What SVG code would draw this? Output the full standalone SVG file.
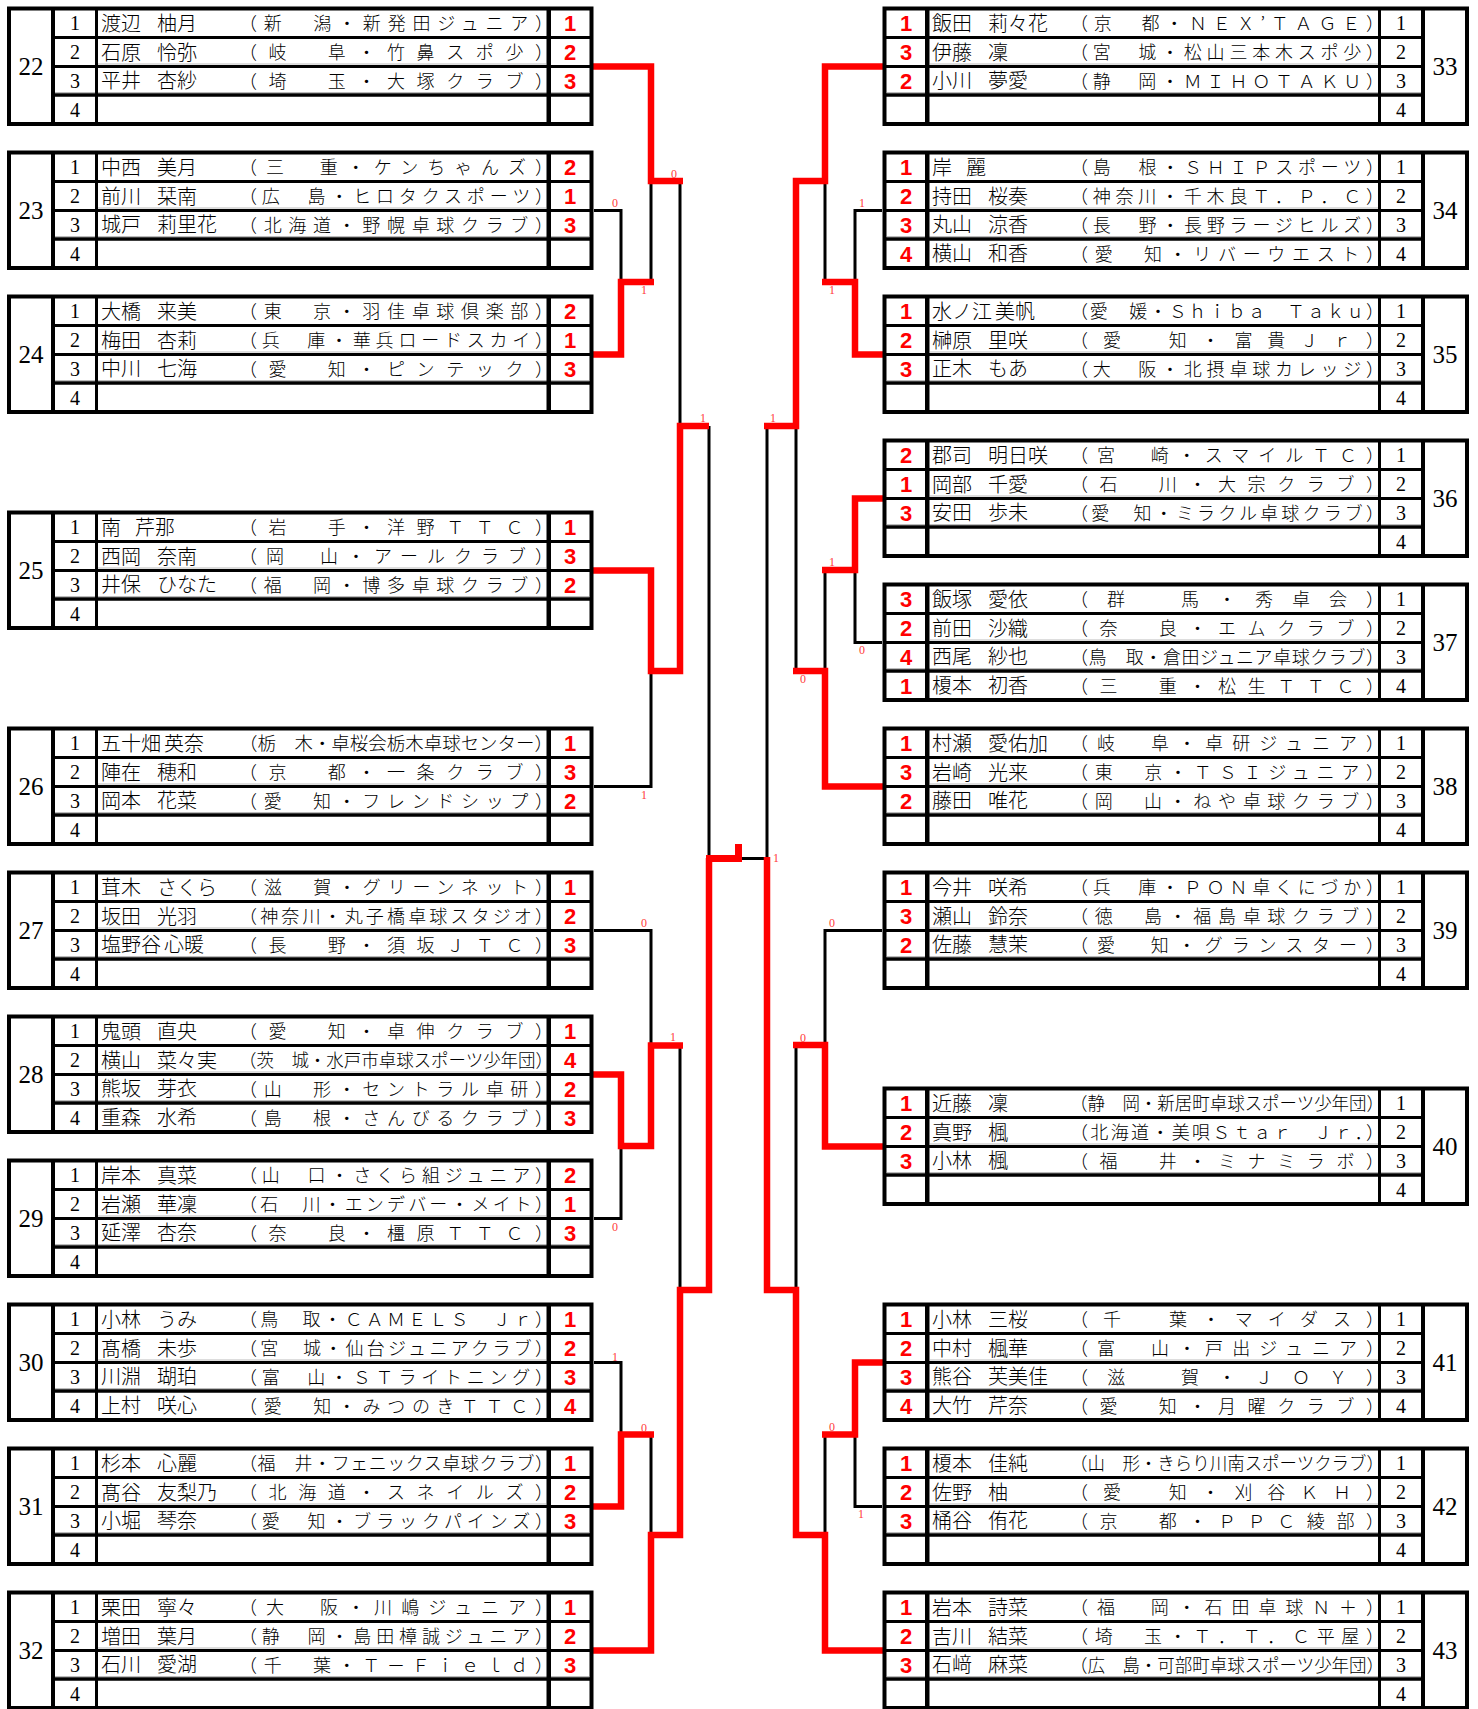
<svg xmlns="http://www.w3.org/2000/svg" xmlns:xlink="http://www.w3.org/1999/xlink" width="1478" height="1709" viewBox="0 0 1478 1709">
<style>
.nm{font-family:"Noto Sans CJK JP",sans-serif;font-size:20px;font-weight:300;fill:#000}
.cl{font-family:"Noto Sans CJK JP",sans-serif;font-size:18px;font-weight:300;fill:#000}
.ix{font-family:"Liberation Serif",serif;font-size:20px;text-anchor:middle;fill:#000}
.bn{font-family:"Liberation Serif",serif;font-size:25px;text-anchor:middle;fill:#000}
.sc{font-family:"Liberation Sans",sans-serif;font-weight:bold;font-size:22px;text-anchor:middle;fill:#ff0000}
.lb{font-family:"Liberation Serif",serif;font-size:12px;text-anchor:middle;fill:#ff3b3b}
.k{stroke:#000;stroke-width:3;fill:none}
.r{stroke:#ff0000;stroke-width:6.5;fill:none;stroke-linejoin:miter}
</style>
<defs>
<g id="frame">
<rect x="9" y="1.5" width="582.5" height="115.5" fill="#fff" stroke="#000" stroke-width="4"/>
<line x1="98" y1="57" x2="546" y2="57" stroke="#bbb" stroke-width="1"/>
<line x1="55" y1="85.5" x2="589" y2="85.5" stroke="#bbb" stroke-width="1"/>
<line x1="53" y1="0" x2="53" y2="119" stroke="#000" stroke-width="4"/>
<line x1="96.5" y1="0" x2="96.5" y2="119" stroke="#000" stroke-width="3"/>
<line x1="548.75" y1="0" x2="548.75" y2="119" stroke="#000" stroke-width="4.5"/>
<line x1="53" y1="30.5" x2="591" y2="30.5" stroke="#000" stroke-width="3"/>
<line x1="53" y1="59.5" x2="591" y2="59.5" stroke="#000" stroke-width="3"/>
<line x1="53" y1="88" x2="591" y2="88" stroke="#000" stroke-width="3.5"/>
</g>
<g id="idxL"><text class="ix" x="75" y="23">1</text><text class="ix" x="75" y="52">2</text><text class="ix" x="75" y="80.5">3</text><text class="ix" x="75" y="109.5">4</text></g>
<g id="idxR"><text class="ix" x="1401" y="23">1</text><text class="ix" x="1401" y="52">2</text><text class="ix" x="1401" y="80.5">3</text><text class="ix" x="1401" y="109.5">4</text></g>
<use id="frameR" xlink:href="#frame" transform="translate(1476,0) scale(-1,1)"/>
</defs>
<rect width="1478" height="1709" fill="#fff"/>

<g id="connectors">
<g id="black-lines" class="k">
<path d="M594 210.5H621V282"/>
<path d="M651 181V282"/>
<path d="M680 181V426"/>
<path d="M594 786.5H651V671"/>
<path d="M709 426V858"/>
<path d="M594 930.5H651V1045.5"/>
<path d="M594 1218.5H621V1146"/>
<path d="M680 1045.5V1290"/>
<path d="M594 1362.5H621V1434.5"/>
<path d="M651 1434.5V1535"/>
<path d="M740 858.5H767"/>
<path d="M882 210.5H855V282"/>
<path d="M825 181V282"/>
<path d="M796 426V671"/>
<path d="M882 642.5H855V570"/>
<path d="M825 570V671"/>
<path d="M767 426V858"/>
<path d="M882 930.5H825V1045"/>
<path d="M796 1045V1290"/>
<path d="M825 1434.5V1535"/>
<path d="M882 1506.5H855V1434.5"/>
</g>
<g id="red-lines" class="r">
<path d="M590 66.5H651V181H683"/>
<path d="M590 354.5H621V282H654"/>
<path d="M709 426H680V671H651V570.5H590"/>
<path d="M709 858V1290H680V1535H651V1650.5H590"/>
<path d="M683 1045.5H651V1146H621V1074.5H590"/>
<path d="M654 1434.5H621V1506.5H590"/>
<path d="M706 858.5H738.5V844" stroke-width="7"/>
<path d="M886 66.5H825V181H796V426H764"/>
<path d="M886 354.5H855V282H822"/>
<path d="M886 498.5H855V570H822"/>
<path d="M793 671H825V786.5H886"/>
<path d="M767 857V1290H796V1535H825V1650.5H886"/>
<path d="M793 1045H825V1146.5H886"/>
<path d="M886 1362.5H855V1434.5H822"/>
</g>
<g id="scores">
<text class="lb" x="674" y="178">0</text>
<text class="lb" x="615" y="207">0</text>
<text class="lb" x="644" y="294">1</text>
<text class="lb" x="703" y="422">1</text>
<text class="lb" x="644" y="799">1</text>
<text class="lb" x="644" y="927">0</text>
<text class="lb" x="673" y="1041">1</text>
<text class="lb" x="615" y="1231">0</text>
<text class="lb" x="615" y="1361">1</text>
<text class="lb" x="644" y="1432">0</text>
<text class="lb" x="862" y="207">1</text>
<text class="lb" x="832" y="294">1</text>
<text class="lb" x="773" y="422">1</text>
<text class="lb" x="832" y="566">1</text>
<text class="lb" x="862" y="654">0</text>
<text class="lb" x="803" y="683">0</text>
<text class="lb" x="776" y="862">1</text>
<text class="lb" x="832" y="927">0</text>
<text class="lb" x="803" y="1042">0</text>
<text class="lb" x="832" y="1431">0</text>
<text class="lb" x="861" y="1518">1</text>
</g>
</g>

<g id="block-22" transform="translate(0,7)"><use xlink:href="#frame"/><use xlink:href="#idxL"/><text class="bn" x="31" y="68">22</text>
<text class="nm" x="101" y="23.5">渡辺<tspan dx="16">柚月</tspan></text><text class="cl" x="239" y="23" textLength="314" lengthAdjust="spacing">（新　潟・新発田ジュニア）</text><text class="sc" x="570" y="24">1</text>
<text class="nm" x="101" y="52.5">石原<tspan dx="16">怜弥</tspan></text><text class="cl" x="239" y="52" textLength="314" lengthAdjust="spacing">（岐　阜・竹鼻スポ少）</text><text class="sc" x="570" y="53">2</text>
<text class="nm" x="101" y="81">平井<tspan dx="16">杏紗</tspan></text><text class="cl" x="239" y="80.5" textLength="314" lengthAdjust="spacing">（埼　玉・大塚クラブ）</text><text class="sc" x="570" y="81.5">3</text>
</g>
<g id="block-23" transform="translate(0,151)"><use xlink:href="#frame"/><use xlink:href="#idxL"/><text class="bn" x="31" y="68">23</text>
<text class="nm" x="101" y="23.5">中西<tspan dx="16">美月</tspan></text><text class="cl" x="239" y="23" textLength="314" lengthAdjust="spacing">（三　重・ケンちゃんズ）</text><text class="sc" x="570" y="24">2</text>
<text class="nm" x="101" y="52.5">前川<tspan dx="16">栞南</tspan></text><text class="cl" x="239" y="52" textLength="314" lengthAdjust="spacing">（広　島・ヒロタクスポーツ）</text><text class="sc" x="570" y="53">1</text>
<text class="nm" x="101" y="81">城戸<tspan dx="16">莉里花</tspan></text><text class="cl" x="239" y="80.5" textLength="314" lengthAdjust="spacing">（北海道・野幌卓球クラブ）</text><text class="sc" x="570" y="81.5">3</text>
</g>
<g id="block-24" transform="translate(0,295)"><use xlink:href="#frame"/><use xlink:href="#idxL"/><text class="bn" x="31" y="68">24</text>
<text class="nm" x="101" y="23.5">大橋<tspan dx="16">来美</tspan></text><text class="cl" x="239" y="23" textLength="314" lengthAdjust="spacing">（東　京・羽佳卓球倶楽部）</text><text class="sc" x="570" y="24">2</text>
<text class="nm" x="101" y="52.5">梅田<tspan dx="16">杏莉</tspan></text><text class="cl" x="239" y="52" textLength="314" lengthAdjust="spacing">（兵　庫・華兵ロードスカイ）</text><text class="sc" x="570" y="53">1</text>
<text class="nm" x="101" y="81">中川<tspan dx="16">七海</tspan></text><text class="cl" x="239" y="80.5" textLength="314" lengthAdjust="spacing">（愛　知・ピンテック）</text><text class="sc" x="570" y="81.5">3</text>
</g>
<g id="block-25" transform="translate(0,511)"><use xlink:href="#frame"/><use xlink:href="#idxL"/><text class="bn" x="31" y="68">25</text>
<text class="nm" x="101" y="23.5">南<tspan dx="14">芹那</tspan></text><text class="cl" x="239" y="23" textLength="314" lengthAdjust="spacing">（岩　手・洋野ＴＴＣ）</text><text class="sc" x="570" y="24">1</text>
<text class="nm" x="101" y="52.5">西岡<tspan dx="16">奈南</tspan></text><text class="cl" x="239" y="52" textLength="314" lengthAdjust="spacing">（岡　山・アールクラブ）</text><text class="sc" x="570" y="53">3</text>
<text class="nm" x="101" y="81">井保<tspan dx="16">ひなた</tspan></text><text class="cl" x="239" y="80.5" textLength="314" lengthAdjust="spacing">（福　岡・博多卓球クラブ）</text><text class="sc" x="570" y="81.5">2</text>
</g>
<g id="block-26" transform="translate(0,727)"><use xlink:href="#frame"/><use xlink:href="#idxL"/><text class="bn" x="31" y="68">26</text>
<text class="nm" x="101" y="23.5">五十畑<tspan dx="3">英奈</tspan></text><text class="cl" x="239" y="23" textLength="314" lengthAdjust="spacingAndGlyphs">（栃　木・卓桜会栃木卓球センター）</text><text class="sc" x="570" y="24">1</text>
<text class="nm" x="101" y="52.5">陣在<tspan dx="16">穂和</tspan></text><text class="cl" x="239" y="52" textLength="314" lengthAdjust="spacing">（京　都・一条クラブ）</text><text class="sc" x="570" y="53">3</text>
<text class="nm" x="101" y="81">岡本<tspan dx="16">花菜</tspan></text><text class="cl" x="239" y="80.5" textLength="314" lengthAdjust="spacing">（愛　知・フレンドシップ）</text><text class="sc" x="570" y="81.5">2</text>
</g>
<g id="block-27" transform="translate(0,871)"><use xlink:href="#frame"/><use xlink:href="#idxL"/><text class="bn" x="31" y="68">27</text>
<text class="nm" x="101" y="23.5">茸木<tspan dx="16">さくら</tspan></text><text class="cl" x="239" y="23" textLength="314" lengthAdjust="spacing">（滋　賀・グリーンネット）</text><text class="sc" x="570" y="24">1</text>
<text class="nm" x="101" y="52.5">坂田<tspan dx="16">光羽</tspan></text><text class="cl" x="239" y="52" textLength="314" lengthAdjust="spacing">（神奈川・丸子橋卓球スタジオ）</text><text class="sc" x="570" y="53">2</text>
<text class="nm" x="101" y="81">塩野谷<tspan dx="3">心暖</tspan></text><text class="cl" x="239" y="80.5" textLength="314" lengthAdjust="spacing">（長　野・須坂ＪＴＣ）</text><text class="sc" x="570" y="81.5">3</text>
</g>
<g id="block-28" transform="translate(0,1015)"><use xlink:href="#frame"/><use xlink:href="#idxL"/><text class="bn" x="31" y="68">28</text>
<text class="nm" x="101" y="23.5">鬼頭<tspan dx="16">直央</tspan></text><text class="cl" x="239" y="23" textLength="314" lengthAdjust="spacing">（愛　知・卓伸クラブ）</text><text class="sc" x="570" y="24">1</text>
<text class="nm" x="101" y="52.5">横山<tspan dx="16">菜々実</tspan></text><text class="cl" x="239" y="52" textLength="314" lengthAdjust="spacingAndGlyphs">（茨　城・水戸市卓球スポーツ少年団）</text><text class="sc" x="570" y="53">4</text>
<text class="nm" x="101" y="81">熊坂<tspan dx="16">芽衣</tspan></text><text class="cl" x="239" y="80.5" textLength="314" lengthAdjust="spacing">（山　形・セントラル卓研）</text><text class="sc" x="570" y="81.5">2</text>
<text class="nm" x="101" y="110">重森<tspan dx="16">水希</tspan></text><text class="cl" x="239" y="109.5" textLength="314" lengthAdjust="spacing">（島　根・さんびるクラブ）</text><text class="sc" x="570" y="110.5">3</text>
</g>
<g id="block-29" transform="translate(0,1159)"><use xlink:href="#frame"/><use xlink:href="#idxL"/><text class="bn" x="31" y="68">29</text>
<text class="nm" x="101" y="23.5">岸本<tspan dx="16">真菜</tspan></text><text class="cl" x="239" y="23" textLength="314" lengthAdjust="spacing">（山　口・さくら組ジュニア）</text><text class="sc" x="570" y="24">2</text>
<text class="nm" x="101" y="52.5">岩瀬<tspan dx="16">華凜</tspan></text><text class="cl" x="239" y="52" textLength="314" lengthAdjust="spacing">（石　川・エンデバー・メイト）</text><text class="sc" x="570" y="53">1</text>
<text class="nm" x="101" y="81">延澤<tspan dx="16">杏奈</tspan></text><text class="cl" x="239" y="80.5" textLength="314" lengthAdjust="spacing">（奈　良・橿原ＴＴＣ）</text><text class="sc" x="570" y="81.5">3</text>
</g>
<g id="block-30" transform="translate(0,1303)"><use xlink:href="#frame"/><use xlink:href="#idxL"/><text class="bn" x="31" y="68">30</text>
<text class="nm" x="101" y="23.5">小林<tspan dx="16">うみ</tspan></text><text class="cl" x="239" y="23" textLength="314" lengthAdjust="spacing">（鳥　取・ＣＡＭＥＬＳ　Ｊｒ）</text><text class="sc" x="570" y="24">1</text>
<text class="nm" x="101" y="52.5">髙橋<tspan dx="16">未歩</tspan></text><text class="cl" x="239" y="52" textLength="314" lengthAdjust="spacing">（宮　城・仙台ジュニアクラブ）</text><text class="sc" x="570" y="53">2</text>
<text class="nm" x="101" y="81">川淵<tspan dx="16">瑚珀</tspan></text><text class="cl" x="239" y="80.5" textLength="314" lengthAdjust="spacing">（富　山・ＳＴライトニング）</text><text class="sc" x="570" y="81.5">3</text>
<text class="nm" x="101" y="110">上村<tspan dx="16">咲心</tspan></text><text class="cl" x="239" y="109.5" textLength="314" lengthAdjust="spacing">（愛　知・みつのきＴＴＣ）</text><text class="sc" x="570" y="110.5">4</text>
</g>
<g id="block-31" transform="translate(0,1447)"><use xlink:href="#frame"/><use xlink:href="#idxL"/><text class="bn" x="31" y="68">31</text>
<text class="nm" x="101" y="23.5">杉本<tspan dx="16">心麗</tspan></text><text class="cl" x="239" y="23" textLength="314" lengthAdjust="spacing">（福　井・フェニックス卓球クラブ）</text><text class="sc" x="570" y="24">1</text>
<text class="nm" x="101" y="52.5">髙谷<tspan dx="16">友梨乃</tspan></text><text class="cl" x="239" y="52" textLength="314" lengthAdjust="spacing">（北海道・スネイルズ）</text><text class="sc" x="570" y="53">2</text>
<text class="nm" x="101" y="81">小堀<tspan dx="16">琴奈</tspan></text><text class="cl" x="239" y="80.5" textLength="314" lengthAdjust="spacing">（愛　知・ブラックパインズ）</text><text class="sc" x="570" y="81.5">3</text>
</g>
<g id="block-32" transform="translate(0,1591)"><use xlink:href="#frame"/><use xlink:href="#idxL"/><text class="bn" x="31" y="68">32</text>
<text class="nm" x="101" y="23.5">栗田<tspan dx="16">寧々</tspan></text><text class="cl" x="239" y="23" textLength="314" lengthAdjust="spacing">（大　阪・川嶋ジュニア）</text><text class="sc" x="570" y="24">1</text>
<text class="nm" x="101" y="52.5">増田<tspan dx="16">葉月</tspan></text><text class="cl" x="239" y="52" textLength="314" lengthAdjust="spacing">（静　岡・島田樟誠ジュニア）</text><text class="sc" x="570" y="53">2</text>
<text class="nm" x="101" y="81">石川<tspan dx="16">愛湖</tspan></text><text class="cl" x="239" y="80.5" textLength="314" lengthAdjust="spacing">（千　葉・Ｔ－Ｆｉｅｌｄ）</text><text class="sc" x="570" y="81.5">3</text>
</g>

<g id="block-33" transform="translate(0,7)"><use xlink:href="#frameR"/><use xlink:href="#idxR"/><text class="bn" x="1445" y="68">33</text>
<text class="nm" x="932" y="23.5">飯田<tspan dx="16">莉々花</tspan></text><text class="cl" x="1070" y="23" textLength="314" lengthAdjust="spacing">（京　都・ＮＥＸ’ＴＡＧＥ）</text><text class="sc" x="906" y="24">1</text>
<text class="nm" x="932" y="52.5">伊藤<tspan dx="16">凜</tspan></text><text class="cl" x="1070" y="52" textLength="314" lengthAdjust="spacing">（宮　城・松山三本木スポ少）</text><text class="sc" x="906" y="53">3</text>
<text class="nm" x="932" y="81">小川<tspan dx="16">夢愛</tspan></text><text class="cl" x="1070" y="80.5" textLength="314" lengthAdjust="spacing">（静　岡・ＭＩＨＯＴＡＫＵ）</text><text class="sc" x="906" y="81.5">2</text>
</g>
<g id="block-34" transform="translate(0,151)"><use xlink:href="#frameR"/><use xlink:href="#idxR"/><text class="bn" x="1445" y="68">34</text>
<text class="nm" x="932" y="23.5">岸<tspan dx="14">麗</tspan></text><text class="cl" x="1070" y="23" textLength="314" lengthAdjust="spacing">（島　根・ＳＨＩＰスポーツ）</text><text class="sc" x="906" y="24">1</text>
<text class="nm" x="932" y="52.5">持田<tspan dx="16">桜奏</tspan></text><text class="cl" x="1070" y="52" textLength="314" lengthAdjust="spacing">（神奈川・千木良Ｔ．Ｐ．Ｃ）</text><text class="sc" x="906" y="53">2</text>
<text class="nm" x="932" y="81">丸山<tspan dx="16">涼香</tspan></text><text class="cl" x="1070" y="80.5" textLength="314" lengthAdjust="spacing">（長　野・長野ラージヒルズ）</text><text class="sc" x="906" y="81.5">3</text>
<text class="nm" x="932" y="110">横山<tspan dx="16">和香</tspan></text><text class="cl" x="1070" y="109.5" textLength="314" lengthAdjust="spacing">（愛　知・リバーウエスト）</text><text class="sc" x="906" y="110.5">4</text>
</g>
<g id="block-35" transform="translate(0,295)"><use xlink:href="#frameR"/><use xlink:href="#idxR"/><text class="bn" x="1445" y="68">35</text>
<text class="nm" x="932" y="23.5">水ノ江<tspan dx="3">美帆</tspan></text><text class="cl" x="1070" y="23" textLength="314" lengthAdjust="spacing">（愛　媛・Ｓｈｉｂａ　Ｔａｋｕ）</text><text class="sc" x="906" y="24">1</text>
<text class="nm" x="932" y="52.5">榊原<tspan dx="16">里咲</tspan></text><text class="cl" x="1070" y="52" textLength="314" lengthAdjust="spacing">（愛　知・富貴Ｊｒ）</text><text class="sc" x="906" y="53">2</text>
<text class="nm" x="932" y="81">正木<tspan dx="16">もあ</tspan></text><text class="cl" x="1070" y="80.5" textLength="314" lengthAdjust="spacing">（大　阪・北摂卓球カレッジ）</text><text class="sc" x="906" y="81.5">3</text>
</g>
<g id="block-36" transform="translate(0,439)"><use xlink:href="#frameR"/><use xlink:href="#idxR"/><text class="bn" x="1445" y="68">36</text>
<text class="nm" x="932" y="23.5">郡司<tspan dx="16">明日咲</tspan></text><text class="cl" x="1070" y="23" textLength="314" lengthAdjust="spacing">（宮　崎・スマイルＴＣ）</text><text class="sc" x="906" y="24">2</text>
<text class="nm" x="932" y="52.5">岡部<tspan dx="16">千愛</tspan></text><text class="cl" x="1070" y="52" textLength="314" lengthAdjust="spacing">（石　川・大宗クラブ）</text><text class="sc" x="906" y="53">1</text>
<text class="nm" x="932" y="81">安田<tspan dx="16">歩未</tspan></text><text class="cl" x="1070" y="80.5" textLength="314" lengthAdjust="spacing">（愛　知・ミラクル卓球クラブ）</text><text class="sc" x="906" y="81.5">3</text>
</g>
<g id="block-37" transform="translate(0,583)"><use xlink:href="#frameR"/><use xlink:href="#idxR"/><text class="bn" x="1445" y="68">37</text>
<text class="nm" x="932" y="23.5">飯塚<tspan dx="16">愛依</tspan></text><text class="cl" x="1070" y="23" textLength="314" lengthAdjust="spacing">（群　馬・秀卓会）</text><text class="sc" x="906" y="24">3</text>
<text class="nm" x="932" y="52.5">前田<tspan dx="16">沙織</tspan></text><text class="cl" x="1070" y="52" textLength="314" lengthAdjust="spacing">（奈　良・エムクラブ）</text><text class="sc" x="906" y="53">2</text>
<text class="nm" x="932" y="81">西尾<tspan dx="16">紗也</tspan></text><text class="cl" x="1070" y="80.5" textLength="314" lengthAdjust="spacing">（鳥　取・倉田ジュニア卓球クラブ）</text><text class="sc" x="906" y="81.5">4</text>
<text class="nm" x="932" y="110">榎本<tspan dx="16">初香</tspan></text><text class="cl" x="1070" y="109.5" textLength="314" lengthAdjust="spacing">（三　重・松生ＴＴＣ）</text><text class="sc" x="906" y="110.5">1</text>
</g>
<g id="block-38" transform="translate(0,727)"><use xlink:href="#frameR"/><use xlink:href="#idxR"/><text class="bn" x="1445" y="68">38</text>
<text class="nm" x="932" y="23.5">村瀬<tspan dx="16">愛佑加</tspan></text><text class="cl" x="1070" y="23" textLength="314" lengthAdjust="spacing">（岐　阜・卓研ジュニア）</text><text class="sc" x="906" y="24">1</text>
<text class="nm" x="932" y="52.5">岩崎<tspan dx="16">光来</tspan></text><text class="cl" x="1070" y="52" textLength="314" lengthAdjust="spacing">（東　京・ＴＳＩジュニア）</text><text class="sc" x="906" y="53">3</text>
<text class="nm" x="932" y="81">藤田<tspan dx="16">唯花</tspan></text><text class="cl" x="1070" y="80.5" textLength="314" lengthAdjust="spacing">（岡　山・ねや卓球クラブ）</text><text class="sc" x="906" y="81.5">2</text>
</g>
<g id="block-39" transform="translate(0,871)"><use xlink:href="#frameR"/><use xlink:href="#idxR"/><text class="bn" x="1445" y="68">39</text>
<text class="nm" x="932" y="23.5">今井<tspan dx="16">咲希</tspan></text><text class="cl" x="1070" y="23" textLength="314" lengthAdjust="spacing">（兵　庫・ＰＯＮ卓くにづか）</text><text class="sc" x="906" y="24">1</text>
<text class="nm" x="932" y="52.5">瀬山<tspan dx="16">鈴奈</tspan></text><text class="cl" x="1070" y="52" textLength="314" lengthAdjust="spacing">（徳　島・福島卓球クラブ）</text><text class="sc" x="906" y="53">3</text>
<text class="nm" x="932" y="81">佐藤<tspan dx="16">慧茉</tspan></text><text class="cl" x="1070" y="80.5" textLength="314" lengthAdjust="spacing">（愛　知・グランスター）</text><text class="sc" x="906" y="81.5">2</text>
</g>
<g id="block-40" transform="translate(0,1087)"><use xlink:href="#frameR"/><use xlink:href="#idxR"/><text class="bn" x="1445" y="68">40</text>
<text class="nm" x="932" y="23.5">近藤<tspan dx="16">凜</tspan></text><text class="cl" x="1070" y="23" textLength="314" lengthAdjust="spacingAndGlyphs">（静　岡・新居町卓球スポーツ少年団）</text><text class="sc" x="906" y="24">1</text>
<text class="nm" x="932" y="52.5">真野<tspan dx="16">楓</tspan></text><text class="cl" x="1070" y="52" textLength="314" lengthAdjust="spacing">（北海道・美唄Ｓｔａｒ　Ｊｒ．）</text><text class="sc" x="906" y="53">2</text>
<text class="nm" x="932" y="81">小林<tspan dx="16">楓</tspan></text><text class="cl" x="1070" y="80.5" textLength="314" lengthAdjust="spacing">（福　井・ミナミラボ）</text><text class="sc" x="906" y="81.5">3</text>
</g>
<g id="block-41" transform="translate(0,1303)"><use xlink:href="#frameR"/><use xlink:href="#idxR"/><text class="bn" x="1445" y="68">41</text>
<text class="nm" x="932" y="23.5">小林<tspan dx="16">三桜</tspan></text><text class="cl" x="1070" y="23" textLength="314" lengthAdjust="spacing">（千　葉・マイダス）</text><text class="sc" x="906" y="24">1</text>
<text class="nm" x="932" y="52.5">中村<tspan dx="16">楓華</tspan></text><text class="cl" x="1070" y="52" textLength="314" lengthAdjust="spacing">（富　山・戸出ジュニア）</text><text class="sc" x="906" y="53">2</text>
<text class="nm" x="932" y="81">熊谷<tspan dx="16">芙美佳</tspan></text><text class="cl" x="1070" y="80.5" textLength="314" lengthAdjust="spacing">（滋　賀・ＪＯＹ）</text><text class="sc" x="906" y="81.5">3</text>
<text class="nm" x="932" y="110">大竹<tspan dx="16">芹奈</tspan></text><text class="cl" x="1070" y="109.5" textLength="314" lengthAdjust="spacing">（愛　知・月曜クラブ）</text><text class="sc" x="906" y="110.5">4</text>
</g>
<g id="block-42" transform="translate(0,1447)"><use xlink:href="#frameR"/><use xlink:href="#idxR"/><text class="bn" x="1445" y="68">42</text>
<text class="nm" x="932" y="23.5">榎本<tspan dx="16">佳純</tspan></text><text class="cl" x="1070" y="23" textLength="314" lengthAdjust="spacingAndGlyphs">（山　形・きらり川南スポーツクラブ）</text><text class="sc" x="906" y="24">1</text>
<text class="nm" x="932" y="52.5">佐野<tspan dx="16">柚</tspan></text><text class="cl" x="1070" y="52" textLength="314" lengthAdjust="spacing">（愛　知・刈谷ＫＨ）</text><text class="sc" x="906" y="53">2</text>
<text class="nm" x="932" y="81">桶谷<tspan dx="16">侑花</tspan></text><text class="cl" x="1070" y="80.5" textLength="314" lengthAdjust="spacing">（京　都・ＰＰＣ綾部）</text><text class="sc" x="906" y="81.5">3</text>
</g>
<g id="block-43" transform="translate(0,1591)"><use xlink:href="#frameR"/><use xlink:href="#idxR"/><text class="bn" x="1445" y="68">43</text>
<text class="nm" x="932" y="23.5">岩本<tspan dx="16">詩菜</tspan></text><text class="cl" x="1070" y="23" textLength="314" lengthAdjust="spacing">（福　岡・石田卓球Ｎ＋）</text><text class="sc" x="906" y="24">1</text>
<text class="nm" x="932" y="52.5">吉川<tspan dx="16">結菜</tspan></text><text class="cl" x="1070" y="52" textLength="314" lengthAdjust="spacing">（埼　玉・Ｔ．Ｔ．Ｃ平屋）</text><text class="sc" x="906" y="53">2</text>
<text class="nm" x="932" y="81">石﨑<tspan dx="16">麻菜</tspan></text><text class="cl" x="1070" y="80.5" textLength="314" lengthAdjust="spacingAndGlyphs">（広　島・可部町卓球スポーツ少年団）</text><text class="sc" x="906" y="81.5">3</text>
</g>
</svg>
